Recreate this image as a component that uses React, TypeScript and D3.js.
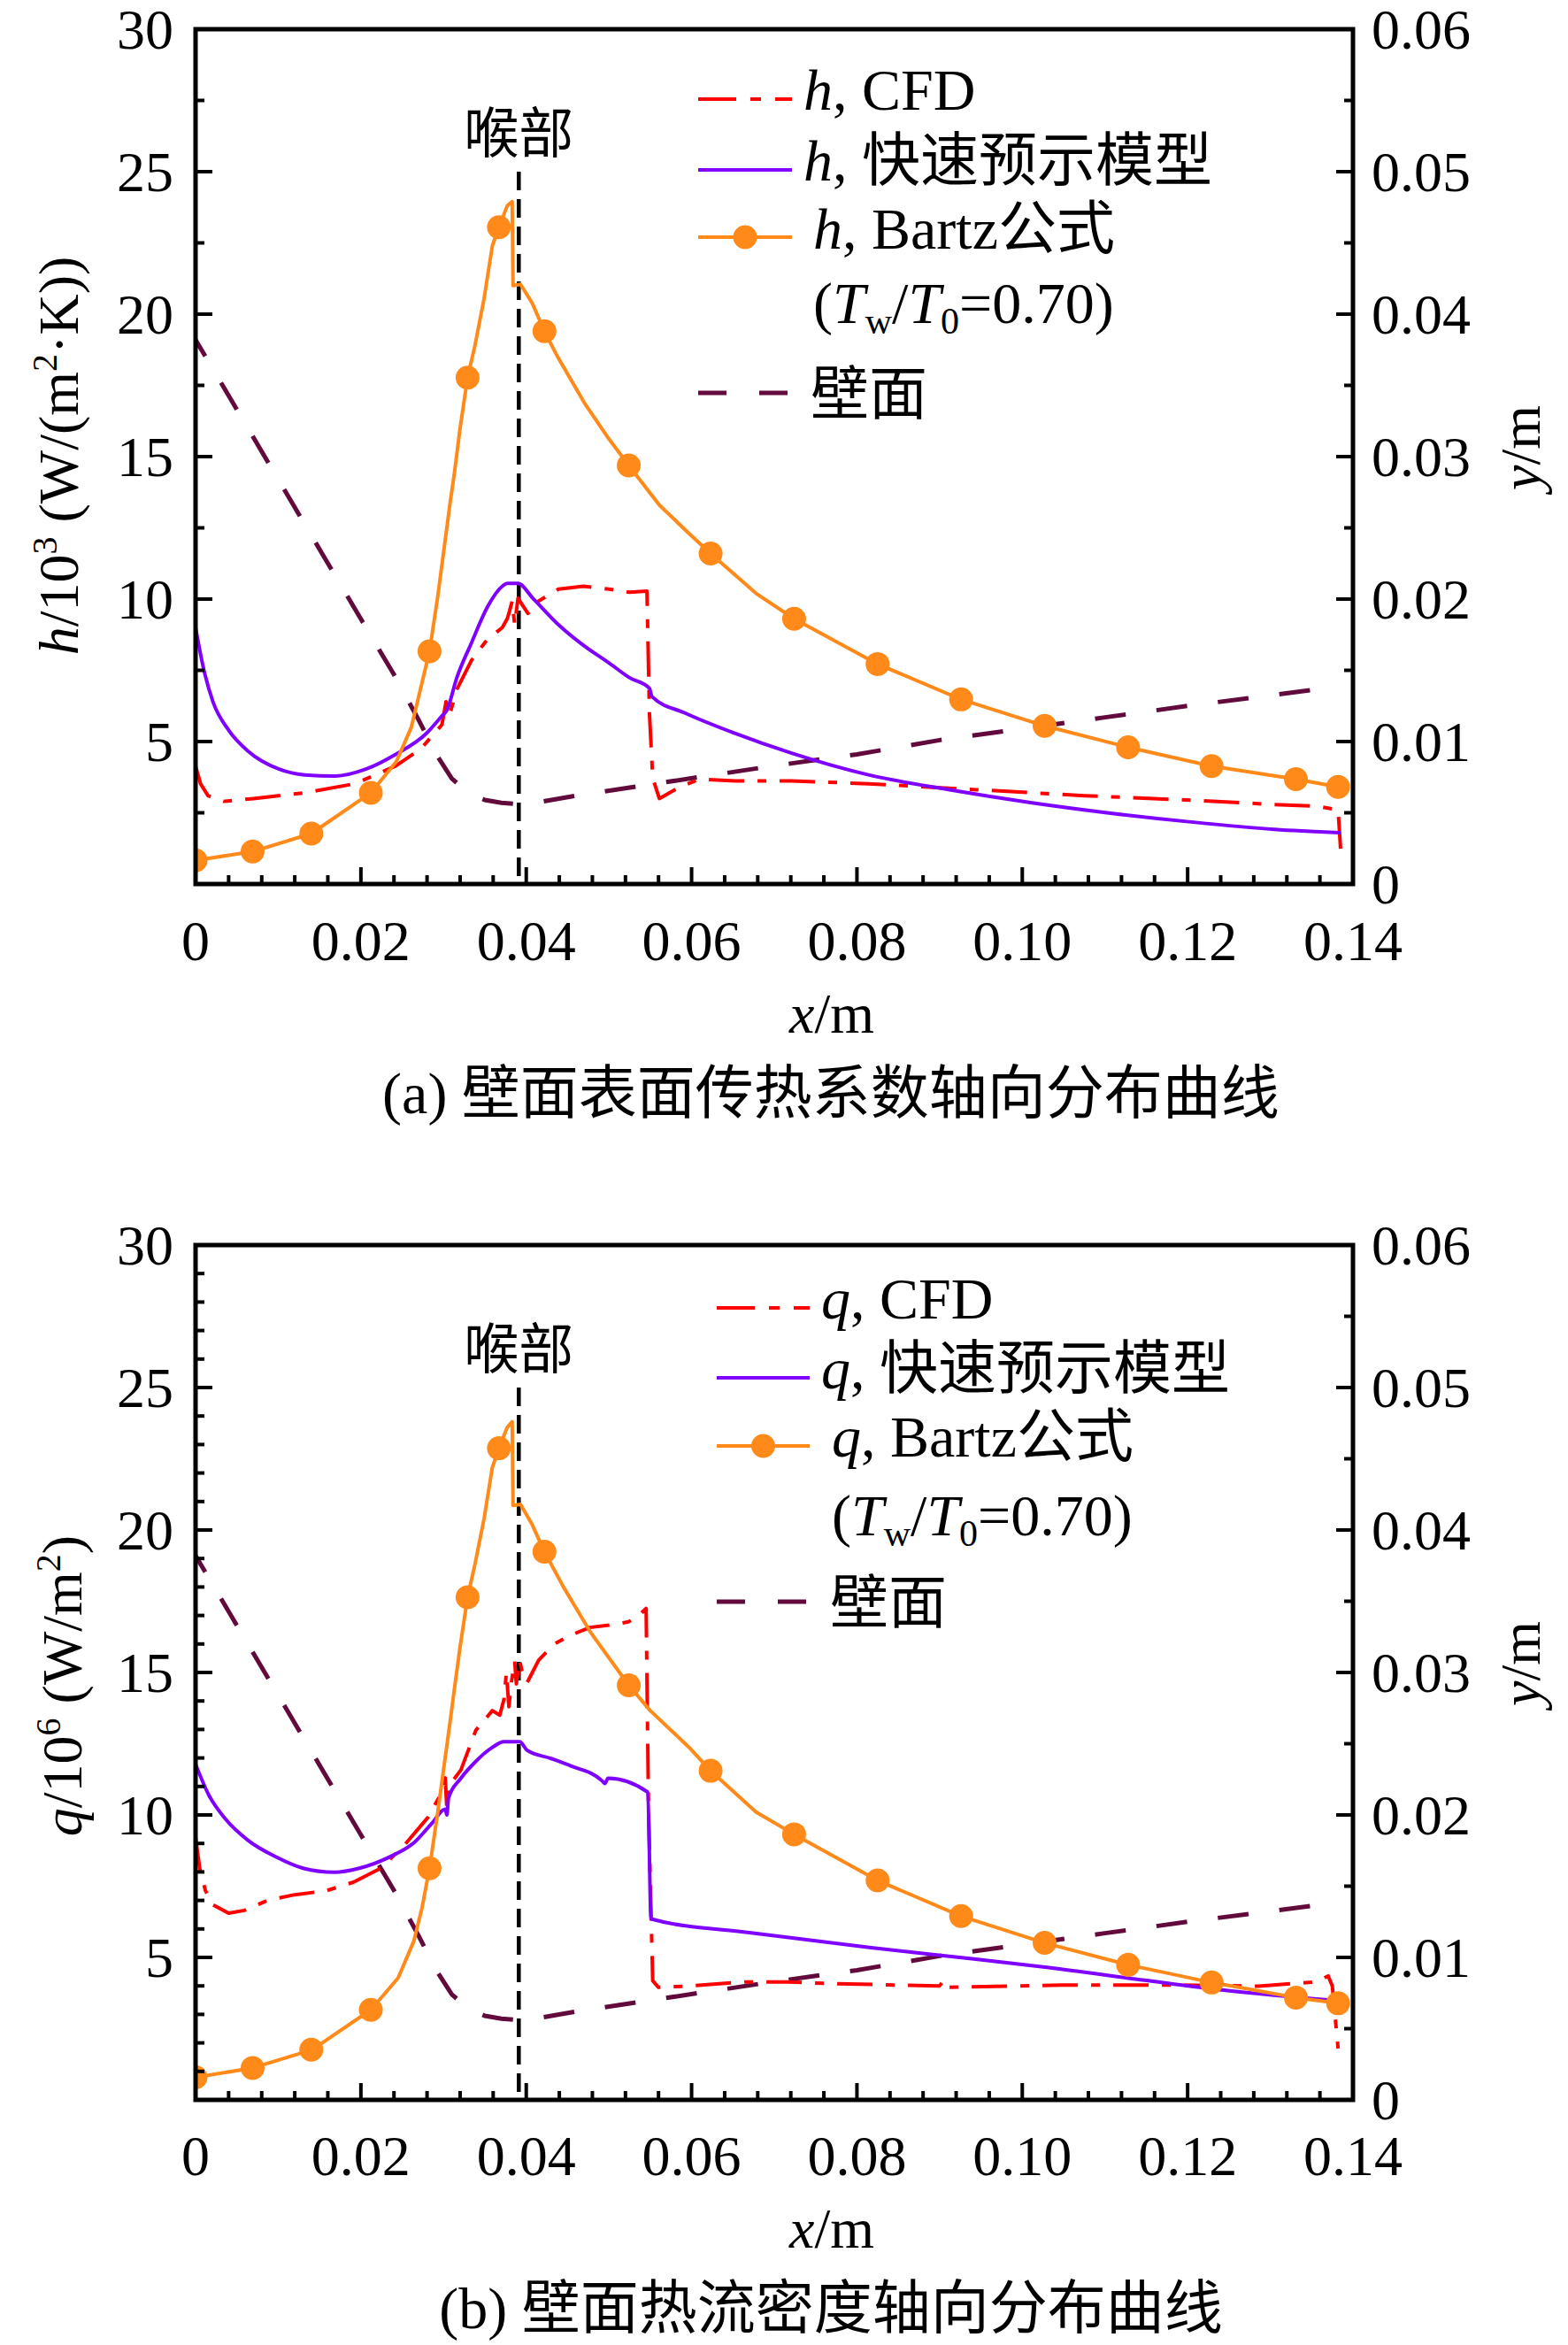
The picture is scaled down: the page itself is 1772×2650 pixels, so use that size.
import React from "react";
import * as d3 from "d3";

// ---------- tick labels ----------
const xTickValues = [0, 0.02, 0.04, 0.06, 0.08, 0.1, 0.12, 0.14];
const xTickLabels = ["0", "0.02", "0.04", "0.06", "0.08", "0.10", "0.12", "0.14"];
const leftTickValues = [5, 10, 15, 20, 25, 30];
const leftTickLabels = ["5", "10", "15", "20", "25", "30"];
const rightTickValues = [0, 0.01, 0.02, 0.03, 0.04, 0.05, 0.06];
const rightTickLabels = ["0", "0.01", "0.02", "0.03", "0.04", "0.05", "0.06"];

const throatX = 0.0391;
const throatTop = 25;

// ---------- Bartz markers (shared x) ----------
const bartzMarkerX = [0, 0.0069, 0.014, 0.0212, 0.0283, 0.0329, 0.0367, 0.0422, 0.0524, 0.0623, 0.0724, 0.0825, 0.0926, 0.1027, 0.1128, 0.1229, 0.1331, 0.1382];
const hBartzMarkerY = [0.83, 1.14, 1.77, 3.2, 8.17, 17.77, 23.05, 19.4, 14.69, 11.6, 9.31, 7.72, 6.48, 5.55, 4.8, 4.14, 3.68, 3.41];
const qBartzMarkerY = [0.79, 1.12, 1.76, 3.16, 8.13, 17.64, 22.87, 19.24, 14.55, 11.55, 9.32, 7.7, 6.45, 5.51, 4.74, 4.12, 3.59, 3.39];

// ---------- panel (a): h ----------
const hBartzLine: [number, number][] = [
  [0, 0.83], [0.0069, 1.14], [0.014, 1.77], [0.0212, 3.2], [0.0243, 4.3], [0.0261, 5.5], [0.0283, 8.17],
  [0.0293, 10.1], [0.0308, 13.4], [0.0313, 14.4], [0.032, 16.0], [0.0329, 17.77], [0.0338, 18.9], [0.0349, 20.55],
  [0.0359, 22.4], [0.0367, 23.05], [0.0377, 23.8], [0.0383, 23.95], [0.0384, 21.0], [0.0393, 21.05],
  [0.0407, 20.4], [0.0422, 19.4], [0.0438, 18.5], [0.047, 16.9], [0.0498, 15.7], [0.0524, 14.69],
  [0.0561, 13.3], [0.0597, 12.3], [0.0623, 11.6], [0.0678, 10.2], [0.0724, 9.31], [0.0825, 7.72], [0.0926, 6.48],
  [0.1027, 5.55], [0.1128, 4.8], [0.1229, 4.14], [0.1331, 3.68], [0.1382, 3.41],
];
const hModel: [number, number][] = [
  [0, 9.0], [0.0009, 7.65], [0.0021, 6.4], [0.004, 5.4], [0.0064, 4.65], [0.0101, 4.03], [0.0132, 3.83],
  [0.0169, 3.79], [0.0206, 4.03], [0.0242, 4.55], [0.0279, 5.28], [0.0298, 5.9], [0.0304, 6.1], [0.0316, 7.24],
  [0.0334, 8.48], [0.0353, 9.72], [0.0371, 10.45], [0.0377, 10.55], [0.039, 10.55], [0.0408, 10.03],
  [0.0439, 9.1], [0.0469, 8.38], [0.05, 7.76], [0.0525, 7.24], [0.0549, 6.87], [0.0552, 6.58], [0.0592, 6.0],
  [0.0653, 5.28], [0.0721, 4.59], [0.0814, 3.83], [0.0912, 3.31], [0.101, 2.86], [0.1109, 2.48], [0.1207, 2.17],
  [0.1305, 1.92], [0.1385, 1.8],
];
const hCFD: [number, number][] = [
  [0, 4.14], [0.0006, 3.52], [0.0015, 3.1], [0.0034, 2.9], [0.007, 3.0], [0.0132, 3.2], [0.0193, 3.52],
  [0.0242, 4.14], [0.0273, 4.76], [0.0298, 5.59], [0.0303, 6.4], [0.0307, 5.9], [0.0316, 6.83], [0.0334, 7.86],
  [0.0353, 8.59], [0.0371, 9.0], [0.0377, 9.31], [0.038, 9.6], [0.0383, 9.93], [0.0386, 9.1], [0.039, 10.03],
  [0.0402, 9.5], [0.0415, 9.93], [0.0439, 10.35], [0.0469, 10.45], [0.05, 10.35], [0.0525, 10.24],
  [0.0546, 10.28], [0.0549, 6.0], [0.0553, 3.72], [0.0561, 3.0], [0.0586, 3.41], [0.061, 3.68], [0.0653, 3.62],
  [0.0721, 3.62], [0.0814, 3.52], [0.0945, 3.31], [0.1075, 3.1], [0.1207, 2.94], [0.1305, 2.79],
  [0.1357, 2.73], [0.1382, 2.6], [0.1385, 1.24],
];

// ---------- panel (b): q ----------
const qBartzLine: [number, number][] = [
  [0, 0.79], [0.0069, 1.12], [0.0141, 1.76], [0.0212, 3.16], [0.0245, 4.28], [0.0264, 5.57], [0.0274, 6.75],
  [0.0283, 8.13], [0.0293, 10.1], [0.0308, 13.3], [0.0313, 14.4], [0.032, 15.9], [0.0329, 17.64], [0.0338, 18.8],
  [0.0349, 20.4], [0.0359, 22.2], [0.0367, 22.87], [0.0377, 23.6], [0.0383, 23.8], [0.0384, 20.86],
  [0.0393, 20.9], [0.0407, 20.2], [0.0422, 19.24], [0.0445, 18.0], [0.0478, 16.4], [0.0524, 14.55],
  [0.055, 13.66], [0.0597, 12.37], [0.0623, 11.55], [0.0678, 10.1], [0.0724, 9.32], [0.0825, 7.7],
  [0.0926, 6.45], [0.1027, 5.51], [0.1128, 4.74], [0.1229, 4.12], [0.1331, 3.59], [0.1382, 3.39],
];
const qModel: [number, number][] = [
  [0, 11.78], [0.0016, 10.7], [0.0035, 9.9], [0.0063, 9.12], [0.0097, 8.53], [0.013, 8.13], [0.0168, 7.99],
  [0.0198, 8.13], [0.0235, 8.53], [0.0264, 9.02], [0.0286, 9.71], [0.0302, 10.2], [0.0304, 10.0], [0.0306, 10.6],
  [0.0321, 11.29], [0.0339, 11.88], [0.0359, 12.37], [0.0373, 12.57], [0.0392, 12.57], [0.0401, 12.27],
  [0.043, 11.98], [0.0454, 11.72], [0.0492, 11.19], [0.0495, 11.1], [0.0499, 11.29], [0.0547, 10.8],
  [0.0551, 6.35], [0.0672, 5.86], [0.0815, 5.35], [0.0939, 4.95], [0.103, 4.65], [0.1148, 4.2],
  [0.1244, 3.85], [0.1377, 3.49],
];
const qCFD: [number, number][] = [
  [0, 9.22], [0.0005, 8.13], [0.0012, 7.34], [0.0021, 6.85], [0.004, 6.55], [0.0059, 6.65], [0.0087, 7.0],
  [0.012, 7.2], [0.0158, 7.34], [0.0191, 7.64], [0.0224, 8.13], [0.0252, 8.92], [0.0281, 9.91], [0.03, 10.9],
  [0.0302, 11.3], [0.0304, 10.2], [0.0306, 11.0], [0.0321, 11.58], [0.0339, 12.97], [0.0359, 13.66],
  [0.0368, 13.5], [0.0373, 14.05], [0.0376, 15.0], [0.0379, 13.8], [0.0382, 14.64], [0.0386, 15.4],
  [0.0388, 14.6], [0.0392, 15.43], [0.0396, 14.9], [0.0401, 14.64], [0.0415, 15.43], [0.0434, 16.0],
  [0.0453, 16.3], [0.0477, 16.58], [0.05, 16.66], [0.0524, 16.78], [0.0538, 17.05], [0.0545, 17.25],
  [0.0548, 10.0], [0.0553, 4.18], [0.056, 3.95], [0.0593, 3.99], [0.0664, 4.14], [0.0716, 4.14], [0.0768, 4.08],
  [0.085, 4.03], [0.09, 4.0], [0.0905, 4.2], [0.091, 3.95], [0.1048, 4.03], [0.119, 4.03], [0.1286, 3.99],
  [0.1355, 4.14], [0.137, 4.35], [0.1375, 4.0], [0.1382, 1.8],
];

// ---------- nozzle wall (y in m, right axis) ----------
const wallProfile: [number, number][] = [
  [0, 0.0382], [0.005, 0.0333], [0.01, 0.0284], [0.015, 0.0235], [0.02, 0.0186], [0.024, 0.0147],
  [0.027, 0.0115], [0.029, 0.0092], [0.031, 0.0074], [0.033, 0.0064], [0.035, 0.0059], [0.037, 0.0057],
  [0.039, 0.0056], [0.042, 0.0058], [0.046, 0.0062], [0.054, 0.0069], [0.062, 0.0076], [0.07, 0.0083],
  [0.08, 0.0091], [0.09, 0.0101], [0.1, 0.0109], [0.11, 0.0117], [0.12, 0.0125], [0.1348, 0.0136],
];

const FONT = "'Liberation Serif','Times New Roman','Noto Sans CJK SC',serif";
const RED = "#ff0000";
const PURPLE = "#7f00ff";
const ORANGE = "#ff8a1a";
const WALL = "#630a3c";

const PL = 221;
const PR = 1529;

type PanelProps = {
  id: string;
  top: number;
  bottom: number;
  labelBase: number;
  leftMinorStep: number;
  sym: string;
  cfd: [number, number][];
  model: [number, number][];
  bartz: [number, number][];
  markerY: number[];
  caption: string;
  yTitle: React.ReactNode;
  yTitleX: number;
  yTitleY: number;
  leg: { x1: number; x2: number; rows: number[]; tx: number[]; base: number[] };
};

function Panel(p: PanelProps) {
  const x = d3.scaleLinear().domain([0, 0.14]).range([PL, PR]);
  const y = d3.scaleLinear().domain([0, 30]).range([p.bottom, p.top]);
  const yR = d3.scaleLinear().domain([0, 0.06]).range([p.bottom, p.top]);
  const lin = d3.line<[number, number]>().x((d) => x(d[0])).y((d) => y(d[1]));
  const smooth = d3
    .line<[number, number]>()
    .x((d) => x(d[0]))
    .y((d) => y(d[1]))
    .curve(d3.curveMonotoneX);
  const wallLine = d3
    .line<[number, number]>()
    .x((d) => x(d[0]))
    .y((d) => yR(d[1]))
    .curve(d3.curveLinear);
  // drawn from the outlet end so a dash finishes exactly at the last point
  const wallReversed = wallProfile.slice().reverse();

  const majorLen = 19;
  const minorLen = 10;
  const xMajor = xTickValues.slice(1, -1);
  const xMinor = d3.range(0.004, 0.1399, 0.004).filter((v) => Math.abs(v / 0.02 - Math.round(v / 0.02)) > 1e-6);
  const yMinor = d3
    .range(p.leftMinorStep, 30, p.leftMinorStep)
    .filter((v) => Math.abs(v / 5 - Math.round(v / 5)) > 1e-6);
  const yMajor = leftTickValues.filter((v) => v < 30);
  const rMajor = rightTickValues.filter((v) => v > 0 && v < 0.06);
  const rMinor = d3.range(0.005, 0.06, 0.01);

  const tickFs = 64;
  const L = p.leg;
  const lx = (L.x1 + L.x2) / 2;

  return (
    <g>
      <defs>
        <clipPath id={"clip" + p.id}>
          <rect x={PL} y={p.top} width={PR - PL} height={p.bottom - p.top} />
        </clipPath>
      </defs>

      {/* data */}
      <g clipPath={`url(#clip${p.id})`} fill="none">
        <path d={wallLine(wallReversed) || ""} stroke={WALL} strokeWidth={5} strokeDasharray="35,35" />
        <line x1={x(throatX)} x2={x(throatX)} y1={y(throatTop)} y2={p.bottom} stroke="#000" strokeWidth={4.5} strokeDasharray="21,10" />
        <path d={lin(p.cfd) || ""} stroke={RED} strokeWidth={4} strokeDasharray="40,15,10,15" strokeLinejoin="round" />
        <path d={smooth(p.model) || ""} stroke={PURPLE} strokeWidth={4} strokeLinejoin="round" />
        <path d={lin(p.bartz) || ""} stroke={ORANGE} strokeWidth={4} strokeLinejoin="round" />
        {bartzMarkerX.map((mx, i) => (
          <circle key={i} cx={x(mx)} cy={y(p.markerY[i])} r={13.5} fill={ORANGE} />
        ))}
      </g>

      {/* frame */}
      <rect x={PL} y={p.top} width={PR - PL} height={p.bottom - p.top} fill="none" stroke="#000" strokeWidth={5} />

      {/* ticks */}
      <g stroke="#000" strokeWidth={4}>
        {xMajor.map((v) => (
          <line key={"xM" + v} x1={x(v)} x2={x(v)} y1={p.bottom} y2={p.bottom - majorLen} />
        ))}
        {xMinor.map((v) => (
          <line key={"xm" + v} x1={x(v)} x2={x(v)} y1={p.bottom} y2={p.bottom - minorLen} />
        ))}
        {yMajor.map((v) => (
          <line key={"yM" + v} x1={PL} x2={PL + majorLen} y1={y(v)} y2={y(v)} />
        ))}
        {yMinor.map((v) => (
          <line key={"ym" + v} x1={PL} x2={PL + minorLen} y1={y(v)} y2={y(v)} />
        ))}
        {rMajor.map((v) => (
          <line key={"rM" + v} x1={PR} x2={PR - majorLen} y1={yR(v)} y2={yR(v)} />
        ))}
        {rMinor.map((v) => (
          <line key={"rm" + v} x1={PR} x2={PR - minorLen} y1={yR(v)} y2={yR(v)} />
        ))}
      </g>

      {/* tick labels */}
      <g fontFamily={FONT} fontSize={tickFs} fill="#000">
        {xTickValues.map((v, i) => (
          <text key={"xl" + i} x={x(v)} y={p.labelBase} textAnchor="middle">
            {xTickLabels[i]}
          </text>
        ))}
        {leftTickValues.map((v, i) => (
          <text key={"yl" + i} x={196} y={y(v) + 22} textAnchor="end">
            {leftTickLabels[i]}
          </text>
        ))}
        {rightTickValues.map((v, i) => (
          <text key={"rl" + i} x={1550} y={yR(v) + 22} textAnchor="start">
            {rightTickLabels[i]}
          </text>
        ))}
      </g>

      {/* axis titles */}
      <g fontFamily={FONT} fontSize={64} fill="#000">
        <text transform={`translate(${p.yTitleX},${p.yTitleY}) rotate(-90)`} textAnchor="middle">
          {p.yTitle}
        </text>
        <text transform={`translate(1740,${(p.top + p.bottom) / 2 - 10}) rotate(-90)`} textAnchor="middle">
          <tspan fontStyle="italic">y</tspan>/m
        </text>
        <text x={940} y={p.labelBase + 82} textAnchor="middle">
          <tspan fontStyle="italic">x</tspan>/m
        </text>
        <text x={939} y={p.labelBase + 173} textAnchor="middle" fontSize={66}>
          {p.caption}
        </text>
        <text x={x(throatX)} y={p.top + 140} textAnchor="middle" fontSize={62}>
          喉部
        </text>
      </g>

      {/* legend */}
      <g>
        <line x1={L.x1} x2={L.x2} y1={L.rows[0]} y2={L.rows[0]} stroke={RED} strokeWidth={4} strokeDasharray="43,16,12,16" />
        <line x1={L.x1} x2={L.x2} y1={L.rows[1]} y2={L.rows[1]} stroke={PURPLE} strokeWidth={4} />
        <line x1={L.x1} x2={L.x2} y1={L.rows[2]} y2={L.rows[2]} stroke={ORANGE} strokeWidth={4} />
        <circle cx={lx} cy={L.rows[2]} r={13.5} fill={ORANGE} />
        <line x1={L.x1} x2={L.x2} y1={L.rows[3]} y2={L.rows[3]} stroke={WALL} strokeWidth={5} strokeDasharray="32,37" />
      </g>
      <g fontFamily={FONT} fontSize={66} fill="#000">
        <text x={L.tx[0]} y={L.base[0]}>
          <tspan fontStyle="italic">{p.sym}</tspan>, CFD
        </text>
        <text x={L.tx[1]} y={L.base[1]}>
          <tspan fontStyle="italic">{p.sym}</tspan>, 快速预示模型
        </text>
        <text x={L.tx[2]} y={L.base[2]}>
          <tspan fontStyle="italic">{p.sym}</tspan>, Bartz公式
        </text>
        <text x={L.tx[2]} y={L.base[3]}>
          (<tspan fontStyle="italic">T</tspan>
          <tspan fontSize={42} dy={12}>w</tspan>
          <tspan dy={-12}>/</tspan>
          <tspan fontStyle="italic">T</tspan>
          <tspan fontSize={42} dy={12}>0</tspan>
          <tspan dy={-12}>=0.70)</tspan>
        </text>
        <text x={L.tx[3]} y={L.base[4]}>壁面</text>
      </g>
    </g>
  );
}

export default function App() {
  const hTitle = (
    <>
      <tspan fontStyle="italic">h</tspan>
      <tspan>/10</tspan>
      <tspan fontSize={40} dy={-24}>3</tspan>
      <tspan dy={24}> (W/(m</tspan>
      <tspan fontSize={40} dy={-24}>2</tspan>
      <tspan dy={24}>·K))</tspan>
    </>
  );
  const qTitle = (
    <>
      <tspan fontStyle="italic">q</tspan>
      <tspan>/10</tspan>
      <tspan fontSize={40} dy={-24}>6</tspan>
      <tspan dy={24}> (W/m</tspan>
      <tspan fontSize={40} dy={-24}>2</tspan>
      <tspan dy={24}>)</tspan>
    </>
  );
  return (
    <svg
      width={1772}
      height={2650}
      viewBox="0 0 1772 2650"
      style={{ position: "absolute", left: 0, top: 0, background: "#fff" }}
    >
      <rect x={0} y={0} width={1772} height={2650} fill="#fff" />
      <Panel
        id="a"
        top={33}
        bottom={999}
        labelBase={1085}
        leftMinorStep={2.5}
        sym="h"
        cfd={hCFD}
        model={hModel}
        bartz={hBartzLine}
        markerY={hBartzMarkerY}
        caption="(a) 壁面表面传热系数轴向分布曲线"
        yTitle={hTitle}
        yTitleX={88}
        yTitleY={515}
        leg={{ x1: 789, x2: 895, rows: [112, 192, 268, 444], tx: [908, 908, 919, 916], base: [124, 204, 281, 365, 468] }}
      />
      <Panel
        id="b"
        top={1407}
        bottom={2373}
        labelBase={2458}
        leftMinorStep={1}
        sym="q"
        cfd={qCFD}
        model={qModel}
        bartz={qBartzLine}
        markerY={qBartzMarkerY}
        caption="(b) 壁面热流密度轴向分布曲线"
        yTitle={qTitle}
        yTitleX={92}
        yTitleY={1905}
        leg={{ x1: 810, x2: 915, rows: [1478, 1557, 1634, 1810], tx: [928, 928, 940, 938], base: [1490, 1569, 1646, 1735, 1834] }}
      />
    </svg>
  );
}
